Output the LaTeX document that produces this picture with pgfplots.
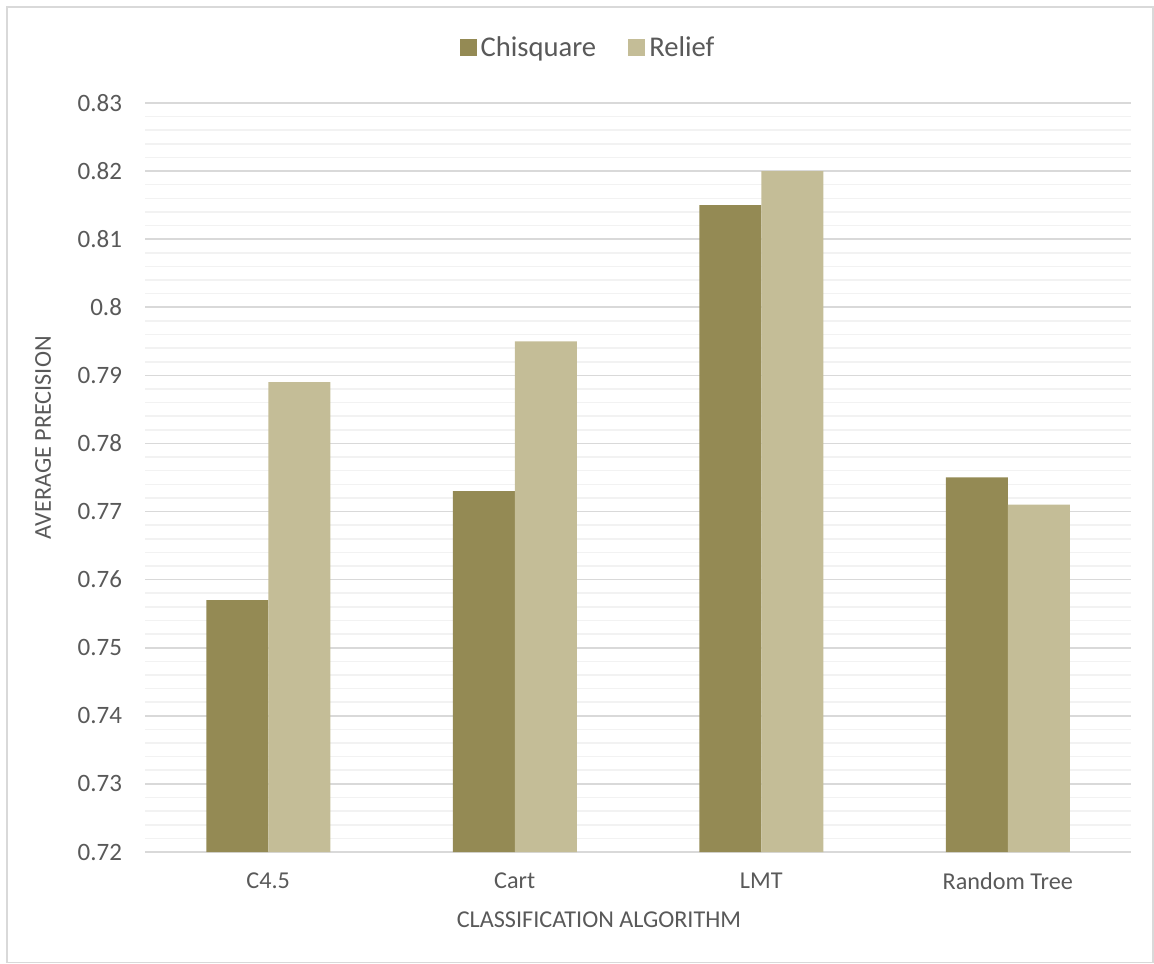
\documentclass[border=0pt]{standalone}
\usepackage{fontspec}
\setmainfont{Carlito}
\usepackage{pgfplots}
\pgfplotsset{compat=1.18}
\definecolor{darkbar}{HTML}{948A54}
\definecolor{lightbar}{HTML}{C4BD97}
\definecolor{txt}{HTML}{595959}
\definecolor{majgrid}{HTML}{D9D9D9}
\definecolor{mingrid}{HTML}{F2F2F2}
\begin{document}
\begin{tikzpicture}
\useasboundingbox (0,0) rectangle (577pt,481.5pt);
\draw[majgrid, line width=0.8pt] (3.5pt,0.3pt) rectangle (576.6pt,478pt);
\begin{axis}[
  at={(72.5pt,55.5pt)}, anchor=south west,
  scale only axis, width=493pt, height=374.5pt,
  ybar, bar width=31pt, ybar=0pt,
  xmin=-0.5, xmax=3.5,
  ymin=0.72, ymax=0.83,
  xtick={0,1,2,3},
  xticklabels={C4.5,Cart,LMT,Random Tree},
  ytick={0.72,0.73,0.74,0.75,0.76,0.77,0.78,0.79,0.80,0.81,0.82,0.83},
  yticklabels={0.72,0.73,0.74,0.75,0.76,0.77,0.78,0.79,0.8,0.81,0.82,0.83},
  minor y tick num=4,
  ymajorgrids, yminorgrids,
  major grid style={majgrid, line width=0.8pt},
  minor grid style={mingrid, line width=0.8pt},
  axis line style={draw=none},
  major tick length=0pt, minor tick length=0pt,
  tick label style={font=\fontsize{12.5}{15}\selectfont, text=txt},
  xticklabel style={font=\fontsize{12.1}{15}\selectfont, yshift=-7pt},
  /pgf/number format/assume math mode=true,
  yticklabel style={xshift=-8pt},
  xlabel={CLASSIFICATION ALGORITHM},
  ylabel={AVERAGE PRECISION},
  label style={font=\fontsize{12.1}{15}\selectfont, text=txt},
  xlabel style={at={(0.4604,0)}, anchor=center, yshift=-34pt},
  ylabel style={at={(-0.1034,0.553)}, anchor=center},
  legend columns=2,
  legend style={at={(0.4503,1)}, anchor=center, yshift=27.5pt, draw=none,
    font=\fontsize{14.3}{17}\selectfont, text=txt,
    /tikz/every even column/.append style={column sep=14pt}},
  legend image code/.code={\fill[#1] (0pt,-4.25pt) rectangle (8.5pt,4.25pt);},
]
\addplot[fill=darkbar, draw=none] coordinates {(0,0.757) (1,0.773) (2,0.815) (3,0.775)};
\addplot[fill=lightbar, draw=none] coordinates {(0,0.789) (1,0.795) (2,0.820) (3,0.771)};
\legend{Chisquare, Relief}
\end{axis}
\end{tikzpicture}
\end{document}
